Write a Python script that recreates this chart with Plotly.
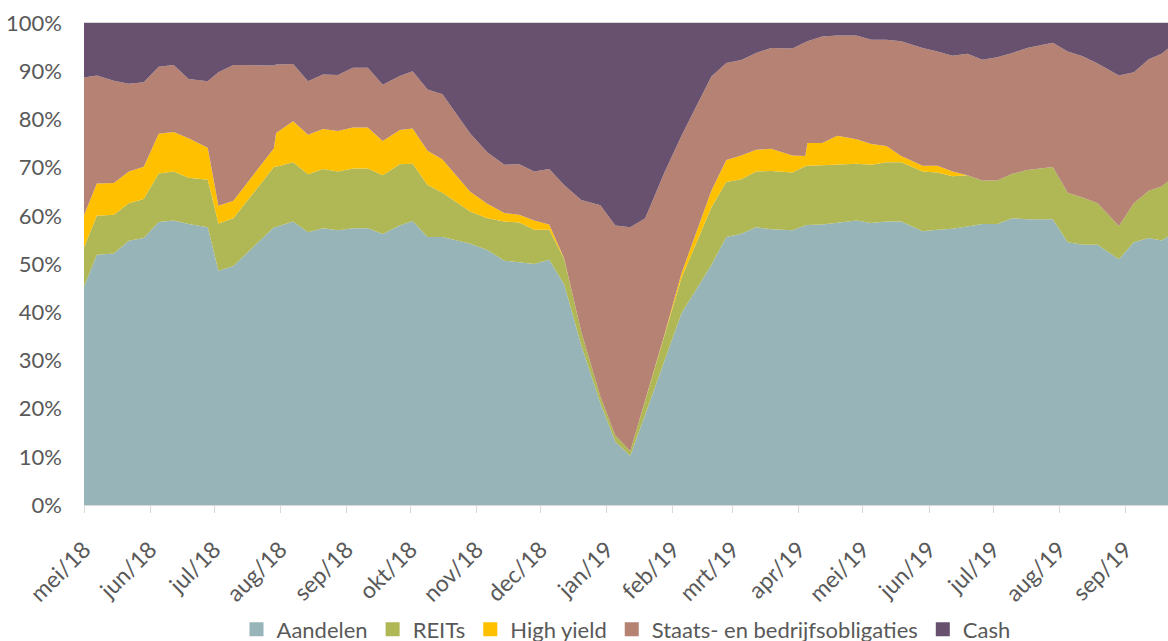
import plotly.graph_objects as go

dates = [
    "2018-05-01", "2018-05-07", "2018-05-15", "2018-05-22", "2018-05-29", "2018-06-05",
    "2018-06-12", "2018-06-19", "2018-06-28", "2018-07-03", "2018-07-10", "2018-07-29",
    "2018-07-30", "2018-08-07", "2018-08-14", "2018-08-21", "2018-08-28", "2018-09-04",
    "2018-09-11", "2018-09-18", "2018-09-26", "2018-10-02", "2018-10-09", "2018-10-16",
    "2018-10-29", "2018-11-06", "2018-11-14", "2018-11-21", "2018-11-28", "2018-12-05",
    "2018-12-12", "2018-12-20", "2018-12-29", "2019-01-05", "2019-01-12", "2019-01-19",
    "2019-01-28", "2019-02-05", "2019-02-19", "2019-02-26", "2019-03-05", "2019-03-12",
    "2019-03-19", "2019-03-29", "2019-04-04", "2019-04-05", "2019-04-12", "2019-04-19",
    "2019-04-28", "2019-05-05", "2019-05-12", "2019-05-19", "2019-05-29", "2019-06-05",
    "2019-06-12", "2019-06-19", "2019-06-26", "2019-07-03", "2019-07-10", "2019-07-17",
    "2019-07-29", "2019-08-05", "2019-08-12", "2019-08-19", "2019-08-29", "2019-09-05",
    "2019-09-12", "2019-09-18", "2019-09-21",
]

aandelen = [
    45.3, 51.9, 52.2, 54.8, 55.4, 58.7, 59.0, 58.3, 57.6, 48.6, 49.6, 57.6,
    57.7, 58.8, 56.6, 57.4, 57.0, 57.4, 57.4, 56.2, 58.0, 58.9, 55.6, 55.6,
    54.2, 52.9, 50.7, 50.4, 50.0, 50.9, 45.8, 33.2, 21.1, 13.1, 10.2, 18.8,
    29.7, 39.8, 49.8, 55.6, 56.3, 57.6, 57.2, 57.0, 58.0, 58.1, 58.2, 58.6,
    59.0, 58.5, 58.8, 58.8, 56.8, 57.1, 57.3, 57.8, 58.3, 58.3, 59.5, 59.3,
    59.3, 54.5, 54.0, 54.0, 51.0, 54.5, 55.4, 54.9, 55.7,
]
reits = [
    8.1, 8.1, 8.0, 7.8, 8.1, 10.1, 10.2, 9.6, 9.9, 9.8, 9.9, 12.5,
    12.5, 12.3, 12.0, 12.3, 12.2, 12.4, 12.4, 12.2, 12.7, 11.9, 10.8, 9.2,
    6.7, 6.6, 8.1, 8.2, 7.1, 6.2, 5.3, 2.8, 1.4, 1.3, 1.0, 2.8,
    5.1, 7.3, 11.9, 11.4, 11.3, 11.6, 12.1, 12.0, 12.3, 12.3, 12.3, 12.1,
    11.8, 12.1, 12.3, 12.3, 12.4, 11.9, 10.9, 10.6, 9.0, 9.0, 9.2, 10.2,
    10.8, 10.3, 9.8, 8.6, 6.9, 8.1, 9.8, 11.2, 11.4,
]
high_yield = [
    6.7, 6.7, 6.6, 6.6, 6.7, 8.2, 8.2, 8.2, 6.6, 3.7, 3.6, 3.9,
    7.0, 8.5, 8.2, 8.3, 8.4, 8.5, 8.5, 7.1, 7.1, 7.3, 7.1, 6.9,
    4.1, 3.0, 1.8, 1.6, 1.9, 1.1, 0.1, 0.0, 0.0, 0.0, 0.0, 0.1,
    0.5, 1.0, 3.5, 4.6, 4.9, 4.5, 4.6, 3.5, 2.1, 4.7, 4.6, 5.9,
    5.1, 4.3, 3.4, 1.3, 1.2, 1.4, 1.0, 0.0, 0.0, 0.0, 0.0, 0.0,
    0.0, 0.0, 0.0, 0.0, 0.0, 0.0, 0.0, 0.0, 0.0,
]
obligaties = [
    28.6, 22.4, 21.2, 18.2, 17.5, 13.9, 13.9, 12.3, 13.8, 27.7, 28.2, 17.2,
    14.2, 11.9, 11.1, 11.3, 11.6, 12.4, 12.4, 11.7, 11.2, 11.9, 12.7, 13.5,
    12.1, 10.7, 10.0, 10.5, 10.2, 11.5, 15.2, 27.3, 39.7, 43.6, 46.4, 37.8,
    33.7, 28.5, 23.7, 20.1, 19.8, 20.1, 20.9, 22.2, 23.6, 21.1, 22.1, 20.8,
    21.5, 21.6, 22.0, 23.8, 24.4, 23.7, 24.0, 25.2, 25.1, 25.6, 25.1, 25.3,
    25.8, 29.3, 29.3, 29.0, 31.2, 27.2, 27.3, 27.5, 27.6,
]
cash = [
    11.3, 10.9, 12.0, 12.6, 12.3, 9.1, 8.7, 11.6, 12.1, 10.2, 8.7, 8.8,
    8.6, 8.5, 12.1, 10.7, 10.8, 9.3, 9.3, 12.8, 11.0, 10.0, 13.8, 14.8,
    22.9, 26.8, 29.4, 29.3, 30.8, 30.3, 33.6, 36.7, 37.8, 42.0, 42.4, 40.5,
    31.0, 23.4, 11.1, 8.3, 7.7, 6.2, 5.2, 5.3, 4.0, 3.8, 2.8, 2.6,
    2.6, 3.5, 3.5, 3.8, 5.2, 5.9, 6.8, 6.4, 7.6, 7.1, 6.2, 5.2,
    4.1, 5.9, 6.9, 8.4, 10.9, 10.2, 7.5, 6.4, 5.3,
]

series_names = ["Aandelen", "REITs", "High yield", "Staats- en bedrijfsobligaties", "Cash"]
series_values = [aandelen, reits, high_yield, obligaties, cash]
series_colors = ["#97B4B9", "#AFB855", "#FFC000", "#B58273", "#68516F"]

tick_dates = [
    "2018-05-01", "2018-06-01", "2018-07-01", "2018-08-01", "2018-09-01", "2018-10-01",
    "2018-11-01", "2018-12-01", "2019-01-01", "2019-02-01", "2019-03-01", "2019-04-01",
    "2019-05-01", "2019-06-01", "2019-07-01", "2019-08-01", "2019-09-01",
]
tick_labels = [
    "mei/18", "jun/18", "jul/18", "aug/18", "sep/18", "okt/18", "nov/18", "dec/18",
    "jan/19", "feb/19", "mrt/19", "apr/19", "mei/19", "jun/19", "jul/19", "aug/19", "sep/19",
]
y_ticks = [0, 10, 20, 30, 40, 50, 60, 70, 80, 90, 100]

FONT = "Lato, 'Open Sans', sans-serif"
GREY = "#595959"

fig = go.Figure()
for name, vals, col in zip(series_names, series_values, series_colors):
    fig.add_trace(go.Scatter(
        x=dates, y=vals, name=name, mode="lines",
        stackgroup="one", groupnorm="percent", showlegend=False,
        line=dict(width=0, color=col), fillcolor=col,
    ))
# square legend keys (the reference legend uses filled squares)
for name, col in zip(series_names, series_colors):
    fig.add_trace(go.Scatter(
        x=[None], y=[None], name=name, mode="markers",
        marker=dict(symbol="square", size=14, color=col),
    ))

fig.update_layout(
    width=1168, height=652,
    margin=dict(l=84, r=0, t=23, b=147),
    paper_bgcolor="white", plot_bgcolor="white",
    font=dict(family=FONT, color=GREY, size=20),
    showlegend=True,
    legend=dict(
        orientation="h", x=0.5, xanchor="center", y=-0.258, yanchor="middle",
        font=dict(size=22, color=GREY), itemwidth=30, tracegroupgap=0,
        traceorder="normal",
    ),
    xaxis=dict(
        type="date", range=[dates[0], dates[-1]], automargin=False,
        tickmode="array", tickvals=tick_dates, ticktext=tick_labels,
        tickangle=-45, ticks="outside", ticklen=7, tickcolor="#D9D9D9",
        showline=True, linecolor="#D9D9D9", linewidth=1, mirror=True,
        showgrid=False, zeroline=False, tickfont=dict(size=23, color=GREY),
        ticklabelstandoff=14,
    ),
    yaxis=dict(
        range=[0, 100], tickmode="array", tickvals=y_ticks, automargin=False,
        ticktext=[f"{v}%" for v in y_ticks],
        showgrid=False, zeroline=False, showline=False, ticks="",
        ticklabelstandoff=21, tickfont=dict(size=22, color=GREY),
    ),
)

fig.write_html(
    "out.html",
    config={"displayModeBar": False},
    post_script="document.body.style.margin='0';document.body.style.overflow='hidden';",
)
